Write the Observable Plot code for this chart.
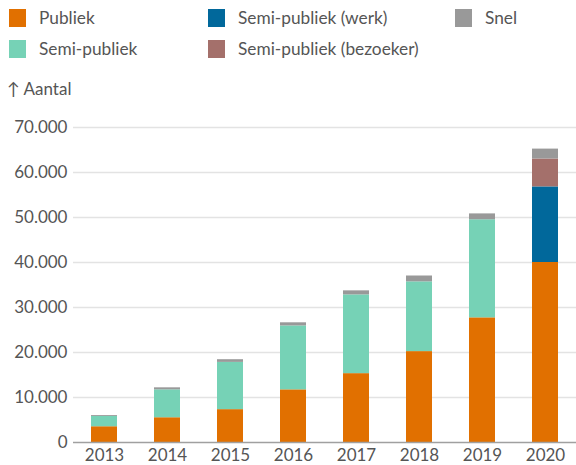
<!DOCTYPE html>
<html>
<head>
<meta charset="utf-8">
<script src="https://cdn.jsdelivr.net/npm/d3@7"></script>
<script src="https://cdn.jsdelivr.net/npm/@observablehq/plot@0.6"></script>
<style>
  body { margin: 0; background: #fff; }
  #wrap { position: relative; width: 576px; height: 465px; font-family: Lato, sans-serif; color: #555; }
  .item { position: absolute; display: flex; align-items: center; font-size: 17.3px; line-height: 18px; white-space: nowrap; }
  .sw { width: 17px; height: 18px; margin-right: 13px; flex: none; }
  #ylabel { position: absolute; left: 7px; top: 79px; font-size: 17px; line-height: 20px; z-index: 2; }
  #chart { position: absolute; left: 0; top: 75px; z-index: 1; }
</style>
</head>
<body>
<div id="wrap">
  <div id="legend"></div>
  <div id="ylabel">↑ Aantal</div>
  <div id="chart"></div>
</div>
<script>
const years = ["2013", "2014", "2015", "2016", "2017", "2018", "2019", "2020"];
const seriesNames = ["Publiek", "Semi-publiek", "Semi-publiek (werk)", "Semi-publiek (bezoeker)", "Snel"];
const seriesColors = ["#e17000", "#76d2b6", "#01689b", "#a4706b", "#999999"];
const publiek = [3500, 5500, 7300, 11700, 15300, 20200, 27700, 40000];
const semiPubliek = [2300, 6200, 10500, 14200, 17500, 15500, 21800, 0];
const semiWerk = [0, 0, 0, 0, 0, 0, 0, 16800];
const semiBezoeker = [0, 0, 0, 0, 0, 0, 0, 6200];
const snel = [200, 450, 600, 700, 900, 1300, 1300, 2200];
const yTicks = [0, 10000, 20000, 30000, 40000, 50000, 60000, 70000];

const valuesBySeries = [publiek, semiPubliek, semiWerk, semiBezoeker, snel];
const data = [];
seriesNames.forEach((s, si) => {
  years.forEach((y, yi) => data.push({year: y, series: s, value: valuesBySeries[si][yi]}));
});

// legend
const legendPos = [
  {left: 9, top: 9}, {left: 9, top: 40}, {left: 208, top: 9}, {left: 208, top: 40}, {left: 455, top: 9}
];
const legend = document.getElementById("legend");
seriesNames.forEach((s, i) => {
  const d = document.createElement("div");
  d.className = "item";
  d.style.left = legendPos[i].left + "px";
  d.style.top = legendPos[i].top + "px";
  d.innerHTML = `<span class="sw" style="background:${seriesColors[i]}"></span><span>${s}</span>`;
  legend.appendChild(d);
});

const fmt = d => d3.format(",")(d).replace(/,/g, ".");

const chart = Plot.plot({
  width: 576,
  height: 390,
  marginTop: 52,
  marginBottom: 23,
  marginLeft: 73,
  marginRight: 0,
  style: {fontFamily: "Lato, sans-serif", fontSize: "17px", color: "#555", background: "transparent"},
  x: {domain: years, paddingInner: 0.59, paddingOuter: 0.26, label: null, tickSize: 0, tickPadding: 6},
  y: {domain: [0, 70000], ticks: yTicks, tickFormat: fmt, label: null, tickSize: 0, tickPadding: 6},
  color: {domain: seriesNames, range: seriesColors},
  marks: [
    Plot.gridY(yTicks.filter(d => d > 0), {stroke: "#e3e3e3", strokeOpacity: 1, strokeWidth: 1.5}),
    Plot.barY(data, {x: "year", y: "value", fill: "series", order: seriesNames}),
    Plot.ruleY([0], {stroke: "#a0a0a0", strokeWidth: 1.5}),
    Plot.axisX({tickSize: 0, tickPadding: 6, fontSize: 17}),
    Plot.axisY({ticks: yTicks, tickFormat: fmt, tickSize: 0, tickPadding: 6, fontSize: 17, label: null})
  ]
});
document.getElementById("chart").appendChild(chart);
</script>
</body>
</html>
